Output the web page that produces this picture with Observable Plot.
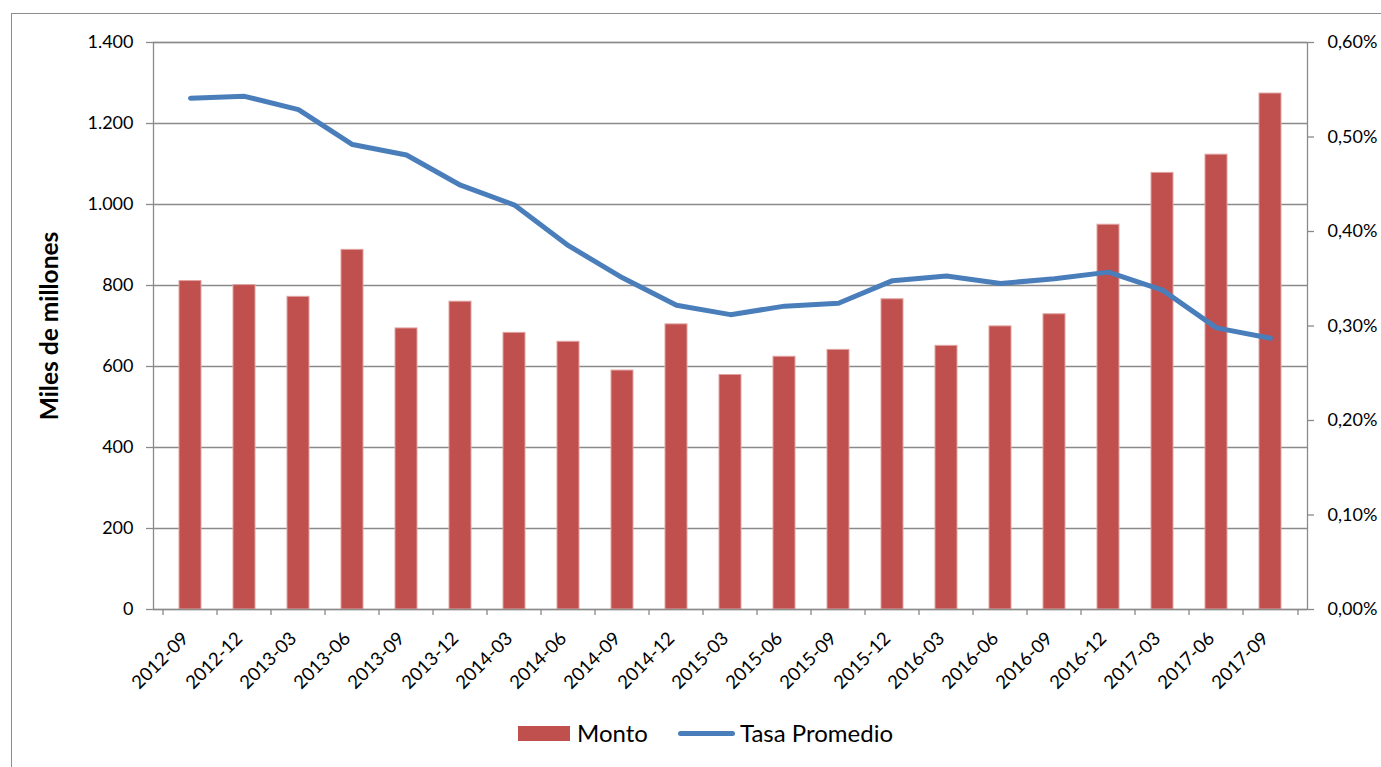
<!DOCTYPE html>
<html>
<head>
<meta charset="utf-8">
<script src="https://cdn.jsdelivr.net/npm/d3@7"></script>
<script src="https://cdn.jsdelivr.net/npm/@observablehq/plot@0.6"></script>
<style>
  html, body { margin: 0; padding: 0; background: #fff; overflow: hidden; }
  #wrap { position: relative; width: 1381px; height: 767px; overflow: hidden; font-family: Lato, "Open Sans", sans-serif; }
  #frame { position: absolute; left: 11px; top: 13px; width: 2000px; height: 2000px; border: 1.5px solid #8c8c8c; pointer-events: none; }
  #chart { position: absolute; left: 0; top: 0; }
  .leg { position: absolute; }
  .legtext { position: absolute; font-size: 24px; line-height: 24px; color: #000; }
</style>
</head>
<body>
<div id="wrap">
  <div id="frame"></div>
  <div id="chart"></div>
  <div class="leg" style="left:518px; top:726px; width:52px; height:15px; background:#c0504d;"></div>
  <div class="legtext" style="left:577px; top:721px;">Monto</div>
  <div class="leg" style="left:678px; top:730.5px; width:57px; height:5px; border-radius:3px; background:#4a7ebb;"></div>
  <div class="legtext" style="left:740px; top:721px;">Tasa Promedio</div>
</div>
<script>
const categories = ["2012-09","2012-12","2013-03","2013-06","2013-09","2013-12","2014-03","2014-06","2014-09","2014-12","2015-03","2015-06","2015-09","2015-12","2016-03","2016-06","2016-09","2016-12","2017-03","2017-06","2017-09"];
const monto = [811, 801, 772, 888, 694, 760, 683, 661, 590, 704, 579, 624, 641, 766, 651, 699, 729, 950, 1078, 1123, 1274];
const tasa = [0.541, 0.543, 0.529, 0.492, 0.481, 0.449, 0.428, 0.385, 0.351, 0.322, 0.312, 0.321, 0.324, 0.348, 0.353, 0.345, 0.350, 0.357, 0.338, 0.298, 0.287];
const leftTicks = [0, 200, 400, 600, 800, 1000, 1200, 1400];
const rightTicks = [0, 0.1, 0.2, 0.3, 0.4, 0.5, 0.6];

const leftMax = 1400, rightMax = 0.6;
const k = leftMax / rightMax;

const data = categories.map((c, i) => ({cat: c, monto: monto[i], tasa: tasa[i], tasaY: tasa[i] * k}));

const W = 1381, H = 700, ML = 153, MR = 74, MT = 42, MB = 91;
const step = (W - ML - MR) / categories.length;

const loc = d3.formatLocale({decimal: ",", thousands: ".", grouping: [3], currency: ["", ""]});
const fmtLeft = loc.format(",d");
const fmtRight = d => (d / k).toFixed(2).replace(".", ",") + "%";

const grid = "#8a8a8a";

const chart = Plot.plot({
  width: W, height: H,
  marginLeft: ML, marginRight: MR, marginTop: MT, marginBottom: MB,
  style: {fontFamily: "Lato, 'Open Sans', sans-serif", fontSize: "18px", color: "#000", background: "transparent"},
  x: {type: "band", domain: categories, paddingInner: 0.6, paddingOuter: 0.3},
  y: {domain: [0, leftMax]},
  marks: [
    Plot.gridY(leftTicks, {stroke: grid, strokeOpacity: 1, strokeWidth: 1.3}),
    Plot.barY(data, {x: "cat", y: "monto", fill: "#c0504d", stroke: "#e0a3a1", strokeWidth: 1}),
    Plot.lineY(data, {x: "cat", y: "tasaY", stroke: "#4a7ebb", strokeWidth: 5, strokeLinecap: "round", strokeLinejoin: "round"}),
    Plot.frame({stroke: grid, strokeWidth: 1.3}),
    Plot.ruleX(categories, {x: d => d, dx: -step / 2, y1: 0, y2: 0, insetBottom: -6, stroke: grid, strokeWidth: 1.3}),
    Plot.ruleX([categories[categories.length - 1]], {x: d => d, dx: step / 2, y1: 0, y2: 0, insetBottom: -6, stroke: grid, strokeWidth: 1.3}),
    Plot.axisY({ticks: leftTicks, tickSize: 7, tickPadding: 13, tickFormat: fmtLeft, stroke: grid, fill: "#000", strokeWidth: 1.3, label: null, fontSize: 18}),
    Plot.axisY({anchor: "right", ticks: rightTicks.map(t => t * k), tickSize: 6, tickPadding: 14, tickFormat: fmtRight, stroke: grid, fill: "#000", strokeWidth: 1.3, label: null, fontSize: 18}),
    Plot.axisX({tickSize: 0, tickRotate: -45, tickPadding: 26, dx: -5, fill: "#000", label: null, fontSize: 18.5}),
    Plot.text(["Miles de millones"], {frameAnchor: "left", dx: -103, rotate: -90, textAnchor: "middle", fontWeight: "bold", fontSize: 24.5, fill: "#000"})
  ]
});
document.getElementById("chart").appendChild(chart);
</script>
</body>
</html>
